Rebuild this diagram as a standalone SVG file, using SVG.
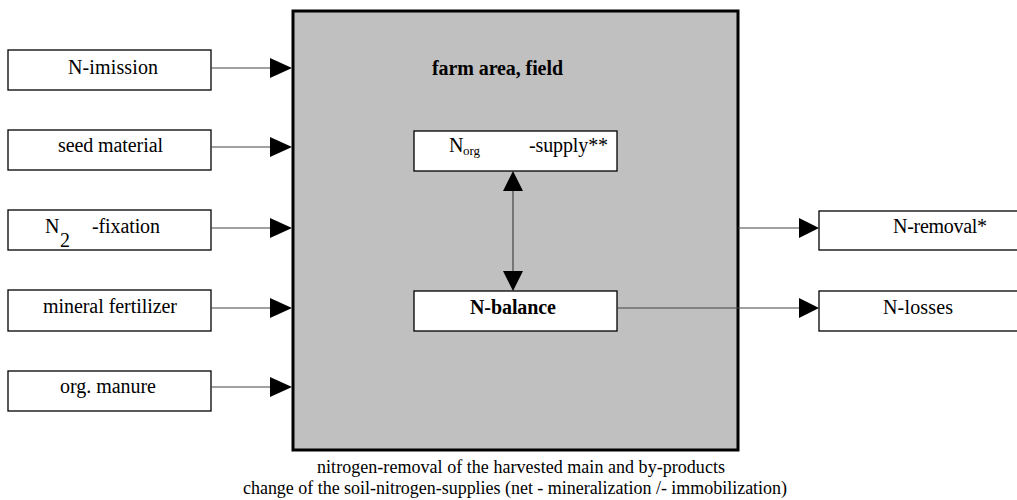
<svg xmlns="http://www.w3.org/2000/svg" width="1017" height="500" viewBox="0 0 1017 500">
<style>
.box{fill:#fff;stroke:#000;stroke-width:1.3}
.t{font-family:"Liberation Serif","Times New Roman",serif;font-size:20px;fill:#000}
.c{font-size:18px}
.s{font-size:13px}
.b{font-weight:bold}
.ln{stroke:#444;stroke-width:1.2;fill:none}
.ah{fill:#000}
</style>
<rect width="1017" height="500" fill="#fff"/>
<g id="field">
<rect x="293" y="11" width="445" height="439" fill="#c0c0c0" stroke="#000" stroke-width="3"/>
<text class="t b" x="432" y="75" textLength="131">farm area, field</text>
</g>
<g id="n-imission"><rect class="box" x="8" y="50" width="203" height="40"/><text class="t" x="68" y="74" textLength="90">N-imission</text></g>
<g id="seed-material"><rect class="box" x="8" y="130" width="203" height="40"/><text class="t" x="58" y="152" textLength="105">seed material</text></g>
<g id="n2-fixation"><rect class="box" x="8" y="210" width="203" height="40"/><text class="t" x="45" y="233">N</text><text class="t" x="60" y="247">2</text><text class="t" x="92" y="233" textLength="68">-fixation</text></g>
<g id="mineral-fertilizer"><rect class="box" x="8" y="290" width="203" height="41"/><text class="t" x="43" y="313" textLength="134">mineral fertilizer</text></g>
<g id="org-manure"><rect class="box" x="8" y="371" width="203" height="40"/><text class="t" x="60" y="393" textLength="96">org. manure</text></g>
<g id="norg-supply"><rect class="box" x="414" y="131" width="203" height="40"/><text class="t" x="449" y="152">N</text><text class="t s" x="463" y="155">org</text><text class="t" x="529" y="152" textLength="79">-supply**</text></g>
<g id="n-balance"><rect class="box" x="414" y="291" width="203" height="40"/><text class="t b" x="470" y="314" textLength="86">N-balance</text></g>
<g id="n-removal"><rect class="box" x="819" y="211" width="210" height="39"/><text class="t" x="893" y="233" textLength="94">N-removal*</text></g>
<g id="n-losses"><rect class="box" x="819" y="291" width="210" height="40"/><text class="t" x="883" y="314" textLength="70">N-losses</text></g>
<g id="connectors">
<line class="ln" x1="211" y1="68" x2="272" y2="68"/><path class="ah" d="M270,58 L292,68 L270,78 Z"/>
<line class="ln" x1="211" y1="147" x2="272" y2="147"/><path class="ah" d="M270,137 L292,147 L270,157 Z"/>
<line class="ln" x1="211" y1="228" x2="272" y2="228"/><path class="ah" d="M270,218 L292,228 L270,238 Z"/>
<line class="ln" x1="211" y1="308" x2="272" y2="308"/><path class="ah" d="M270,298 L292,308 L270,318 Z"/>
<line class="ln" x1="211" y1="387" x2="272" y2="387"/><path class="ah" d="M270,377 L292,387 L270,397 Z"/>
<line class="ln" x1="513" y1="189" x2="513" y2="273"/>
<path class="ah" d="M503,191 L513,171 L523,191 Z"/>
<path class="ah" d="M503,271 L513,291 L523,271 Z"/>
<line class="ln" x1="738" y1="228" x2="801" y2="228"/><path class="ah" d="M799,218 L819,228 L799,238 Z"/>
<line class="ln" x1="617" y1="308" x2="801" y2="308"/><path class="ah" d="M799,298 L819,308 L799,318 Z"/>
</g>
<g id="caption">
<text class="t c" x="317" y="473" textLength="408">nitrogen-removal of the harvested main and by-products</text>
<text class="t c" x="243" y="494" textLength="544">change of the soil-nitrogen-supplies (net - mineralization /- immobilization)</text>
</g>
</svg>
